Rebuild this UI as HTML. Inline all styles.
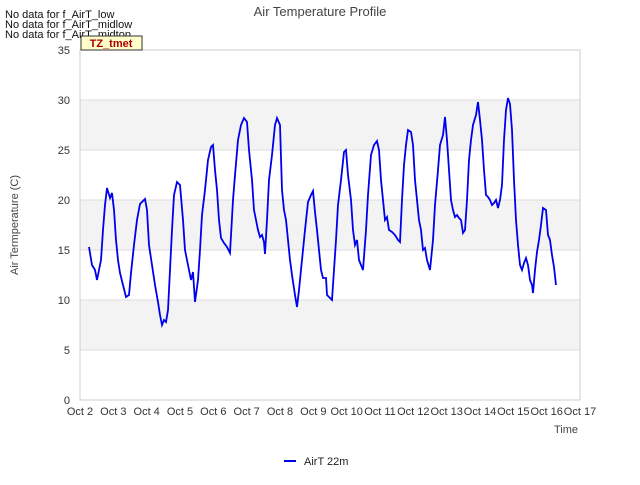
<!DOCTYPE html>
<html><head><meta charset="utf-8"><style>
body{margin:0;background:#fff;font-family:"Liberation Sans",sans-serif;}
svg text{font-family:"Liberation Sans",sans-serif;}
</style></head><body>
<svg id="chart" width="640" height="480" xmlns="http://www.w3.org/2000/svg">
<rect x="0" y="0" width="640" height="480" fill="#fff"/>
<g id="bands"></g>
<g id="grid"></g>
<rect x="80" y="50" width="500" height="350" fill="none" stroke="#ccc"/>
<g id="yt"></g>
<g id="xt"></g>
<path id="line" fill="none" stroke="#0000ee" stroke-width="1.8"/>
<text x="320" y="16" text-anchor="middle" font-size="13" fill="#444">Air Temperature Profile</text>
<text x="18" y="225" text-anchor="middle" font-size="11" fill="#444" transform="rotate(-90 18 225)">Air Termperature (C)</text>
<text x="578" y="433" text-anchor="end" font-size="11" fill="#444">Time</text>
<text x="5" y="18" font-size="11" fill="#111">No data for f_AirT_low</text>
<text x="5" y="28" font-size="11" fill="#111">No data for f_AirT_midlow</text>
<text x="5" y="38" font-size="11" fill="#111">No data for f_AirT_midtop</text>
<rect x="81" y="36" width="61" height="14" fill="#ffffcc" stroke="#333"/>
<text x="111" y="47" text-anchor="middle" font-size="11" font-weight="bold" fill="#a00">TZ_tmet</text>
<line x1="284" y1="461" x2="296" y2="461" stroke="#0000ee" stroke-width="2"/>
<text x="304" y="465" font-size="11" fill="#222">AirT 22m</text>
</svg>
<script>
const xTicks=["Oct 2","Oct 3","Oct 4","Oct 5","Oct 6","Oct 7","Oct 8","Oct 9","Oct 10","Oct 11","Oct 12","Oct 13","Oct 14","Oct 15","Oct 16","Oct 17"];
const yTicks=[0,5,10,15,20,25,30,35];
const times=[0.27,.36,.45,.51,.57,.63,.69,.75,.81,.90,.96,1.02,1.08,1.14,1.20,1.29,1.38,1.47,1.53,1.62,1.71,1.80,1.95,2.01,2.07,2.16,2.25,2.34,2.40,2.46,2.52,2.58,2.64,2.70,2.76,2.82,2.91,3.00,3.09,3.15,3.21,3.27,3.33,3.39,3.45,3.54,3.60,3.66,3.75,3.84,3.93,3.99,4.05,4.11,4.17,4.23,4.32,4.41,4.50,4.59,4.65,4.74,4.83,4.92,5.01,5.07,5.16,5.22,5.28,5.34,5.40,5.46,5.52,5.55,5.61,5.67,5.76,5.85,5.91,6.00,6.06,6.12,6.18,6.24,6.30,6.36,6.45,6.51,6.57,6.66,6.75,6.84,6.93,6.99,7.05,7.11,7.17,7.23,7.29,7.38,7.41,7.50,7.56,7.62,7.68,7.74,7.83,7.92,7.98,8.04,8.13,8.19,8.25,8.31,8.37,8.43,8.49,8.58,8.64,8.73,8.82,8.91,8.97,9.03,9.09,9.15,9.21,9.27,9.36,9.45,9.54,9.60,9.66,9.72,9.78,9.84,9.93,9.99,10.05,10.11,10.17,10.23,10.29,10.35,10.41,10.50,10.59,10.65,10.74,10.80,10.89,10.95,11.01,11.07,11.13,11.19,11.25,11.31,11.37,11.43,11.49,11.55,11.61,11.67,11.73,11.79,11.88,11.94,12.00,12.06,12.12,12.18,12.24,12.30,12.36,12.42,12.48,12.54,12.60,12.66,12.72,12.78,12.84,12.90,12.96,13.02,13.08,13.14,13.20,13.26,13.32,13.38,13.44,13.50,13.56,13.59,13.65,13.71,13.77,13.83,13.89,13.98,14.04,14.10,14.16,14.22,14.28];
const airT22=[15.3,13.5,13,12,13,14,17,19.5,21.2,20.2,20.7,19,16,14,12.7,11.5,10.3,10.5,12.7,15.5,18,19.6,20.1,19,15.5,13.5,11.5,9.8,8.5,7.5,8,7.8,9,13,17,20.5,21.8,21.5,18,15,14,13,12,12.8,9.8,12,15,18.5,21,24,25.3,25.5,23,21,18,16.2,15.7,15.3,14.7,20,22.5,26,27.5,28.2,27.8,25,22,19,18,17,16.3,16.5,15.8,14.6,18,22,24.5,27.5,28.2,27.5,21,19,18,16,14,12.5,10.5,9.3,11,14,17,19.8,20.5,20.9,18.8,17,15,13,12.2,12.2,10.5,10.2,10,13,16,19.5,22,24.8,25,22.5,20,17,15.5,16,14,13.5,13,17,20.5,24.5,25.5,25.9,25,22,20,18,18.3,17,16.8,16.5,16,15.8,20,23.5,25.5,27,26.8,25.5,22,20,18,17,15,15.2,14,13,16,19.5,23,25.5,26.5,28.3,26,23,20,19,18.3,18.5,18.2,18,16.7,17,20,24,26,27.5,28.5,29.8,28,26,23,20.5,20.3,20,19.5,19.7,20,19.2,20,21.5,26,29,30.2,29.6,27,22,18,15.5,13.5,13,13.7,14.2,13.5,12,11.5,10.7,13,14.8,16,17.5,19.2,19,16.5,16,14.5,13.3,11.5];
const NS="http://www.w3.org/2000/svg";
const X0=80,X1=580,Y0=400,Y1=50;
function xs(d){return X0+(d/15)*(X1-X0);}
function ys(v){return Y0-(v/35)*(Y0-Y1);}
function mk(tag,attrs,parent){const e=document.createElementNS(NS,tag);for(const k in attrs)e.setAttribute(k,attrs[k]);parent.appendChild(e);return e;}
const bands=document.getElementById('bands'),grid=document.getElementById('grid'),yt=document.getElementById('yt'),xt=document.getElementById('xt');
for(let i=0;i<yTicks.length-1;i++){
  if(i%2===1){const r=mk('rect',{x:X0,y:ys(yTicks[i+1]),width:X1-X0,height:ys(yTicks[i])-ys(yTicks[i+1]),fill:'#f3f3f3'},bands);
  
  }
}
yTicks.forEach(v=>{
  const l=mk('line',{x1:X0,x2:X1,y1:ys(v),y2:ys(v),stroke:'#ddd'},grid);
  
  
  const t=mk('text',{x:X0-10,y:ys(v)+4,'text-anchor':'end','font-size':11,fill:'#333'},yt);
  t.textContent=v;
  
  
});
xTicks.forEach((s,i)=>{
  const t=mk('text',{x:xs(i),y:Y0+15,'text-anchor':'middle','font-size':11,fill:'#333'},xt);
  t.textContent=s;
  
  
});
document.getElementById('line').setAttribute('d',times.map((d,i)=>(i?'L':'M')+xs(d).toFixed(1)+','+ys(airT22[i]).toFixed(1)).join(''));
</script>
</body></html>
